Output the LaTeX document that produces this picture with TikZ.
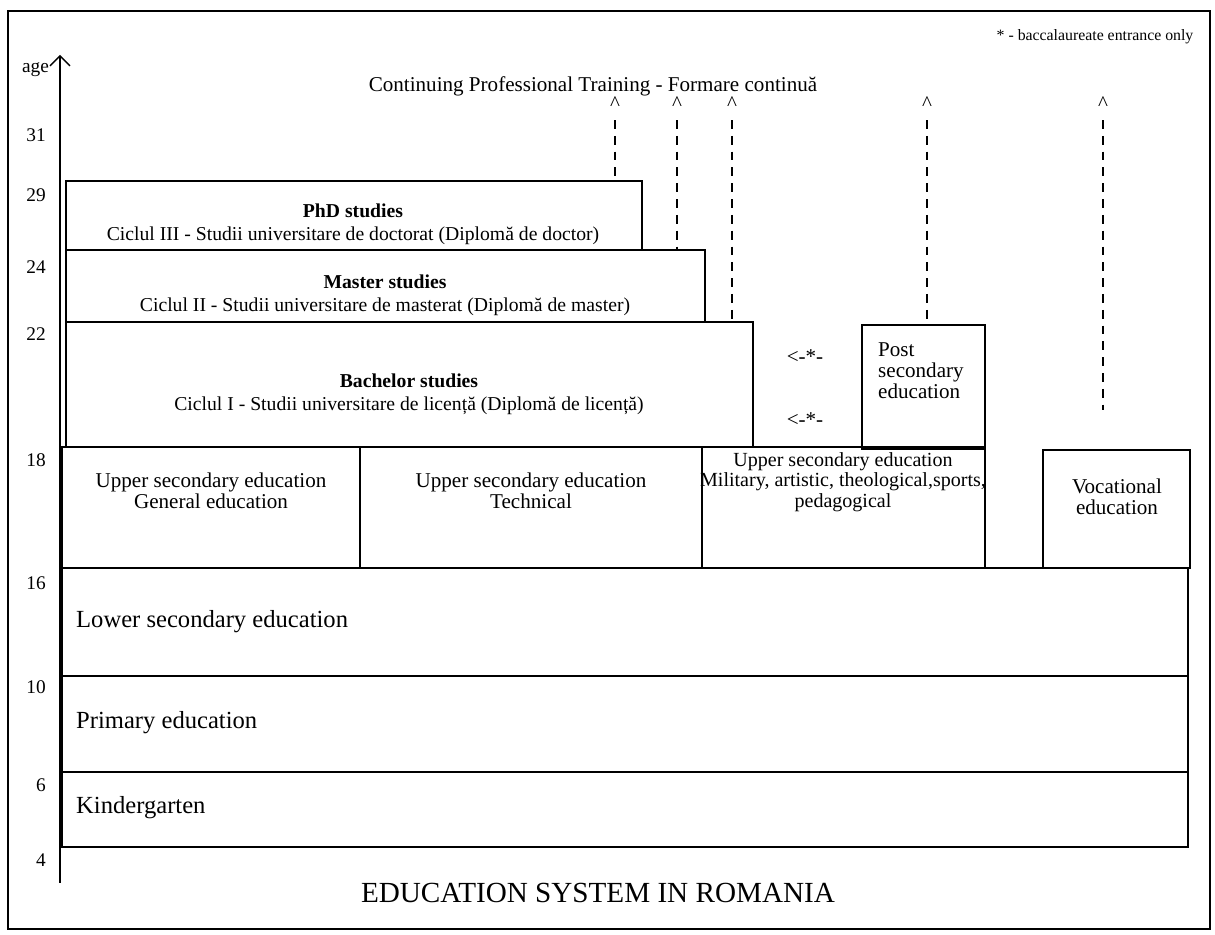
\documentclass[tikz,border=0pt]{standalone}
\usepackage{fontspec}
\setmainfont{Liberation Serif}
\usetikzlibrary{fit,calc,arrows.meta}
\tikzset{
  box/.style={draw, rectangle, inner sep=0pt, line width=0.8pt},
  htxt/.style={align=center, font=\fontsize{11.2}{13}\selectfont},
  txt/.style={align=center, font=\fontsize{12}{12.2}\selectfont},
  lvl/.style={anchor=west, font=\fontsize{14}{16}\selectfont},
  agelbl/.style={anchor=east, font=\fontsize{11}{13}\selectfont},
  caret/.style={inner sep=1pt, font=\fontsize{12}{13}\selectfont},
  link/.style={dash pattern=on 5pt off 4pt, line width=0.6pt, shorten <=4pt},
  axis/.style={-{Straight Barb[length=2mm]}, line width=0.8pt}
}
\begin{document}
\begin{tikzpicture}[x=0.02cm,y=-0.02cm]
  \useasboundingbox (0,0) rectangle (1215,935);
  \draw[line width=0.8pt] (8,11) rectangle (1210,929);
  \node[font=\fontsize{9}{11}\selectfont] (note) at (1095,37) {* - baccalaureate entrance only};
  % age axis
  \coordinate (axbot) at (60,883);
  \coordinate (axtop) at (60,55);
  \draw[axis] (axbot) -- (axtop);
  \node[agelbl, inner xsep=1pt] (agetxt) at (51,70) {age};
  \foreach \a/\y in {31/135,29/195,24/267,22/334,18/460,16/583,10/687,6/785,4/860}
    {\node[agelbl] (age\a) at (52,\y) {\a};}
  \node[txt] (cpt) at (593,86) {Continuing Professional Training - Formare continuă};
  % higher education
  \node[box, fit={(66,181) (642,250)}] (phd) {};
  \node[htxt] (phdtxt) at (353,224) {\textbf{PhD studies}\\Ciclul III - Studii universitare de doctorat (Diplomă de doctor)};
  \node[box, fit={(66,250) (705,322)}] (master) {};
  \node[htxt] (mastertxt) at (385,295) {\textbf{Master studies}\\Ciclul II - Studii universitare de masterat (Diplomă de master)};
  \node[box, fit={(66,322) (753,447)}] (bach) {};
  \node[htxt] (bachtxt) at (409,394) {\textbf{Bachelor studies}\\Ciclul I - Studii universitare de licență (Diplomă de licență)};
  \node[box, fit={(862,325) (985,449)}] (post) {};
  \node[txt, anchor=north west, align=left] (posttxt) at (872,336) {Post\\secondary\\education};
  \node[txt] (star1) at (805,357) {<-*-};
  \node[txt] (star2) at (805,420) {<-*-};
  % upper secondary
  \node[box, fit={(62,447) (360,568)}] (gen) {};
  \node[txt] (gentxt) at (211,491) {Upper secondary education\\General education};
  \node[box, fit={(360,447) (702,568)}] (tech) {};
  \node[txt] (techtxt) at (531,491) {Upper secondary education\\Technical};
  \node[box, fit={(702,447) (985,568)}] (mil) {};
  \node[txt, font=\fontsize{11.4}{11.6}\selectfont] (miltxt) at (843,482) {Upper secondary education\\Military, artistic, theological,sports,\\pedagogical};
  \node[box, fit={(1043,450) (1190,568)}] (voc) {};
  \node[txt] (voctxt) at (1117,497) {Vocational\\education};
  % compulsory levels
  \node[box, fit={(62,568) (1188,676)}] (lower) {};
  \node[lvl] (lowertxt) at (70,622) {Lower secondary education};
  \node[box, fit={(62,676) (1188,772)}] (prim) {};
  \node[lvl] (primtxt) at (70,723) {Primary education};
  \node[box, fit={(62,772) (1188,847)}] (kind) {};
  \node[lvl] (kindtxt) at (70,808) {Kindergarten};
  % paths to continuing training
  \foreach \n/\x in {1/615,2/677,3/732,4/927,5/1103}
    {\node[caret] (c\n) at (\x,104) {\textasciicircum};}
  \coordinate (vocend) at (1103,410);
  \draw[link] (c1.south) -- (c1 |- phd.north);
  \draw[link] (c2.south) -- (c2 |- master.north);
  \draw[link] (c3.south) -- (c3 |- bach.north);
  \draw[link] (c4.south) -- (c4 |- post.north);
  \draw[link] (c5.south) -- (vocend);
  \node[font=\fontsize{16.6}{19}\selectfont] (title) at (598,893) {EDUCATION SYSTEM IN ROMANIA};
\end{tikzpicture}
\end{document}
